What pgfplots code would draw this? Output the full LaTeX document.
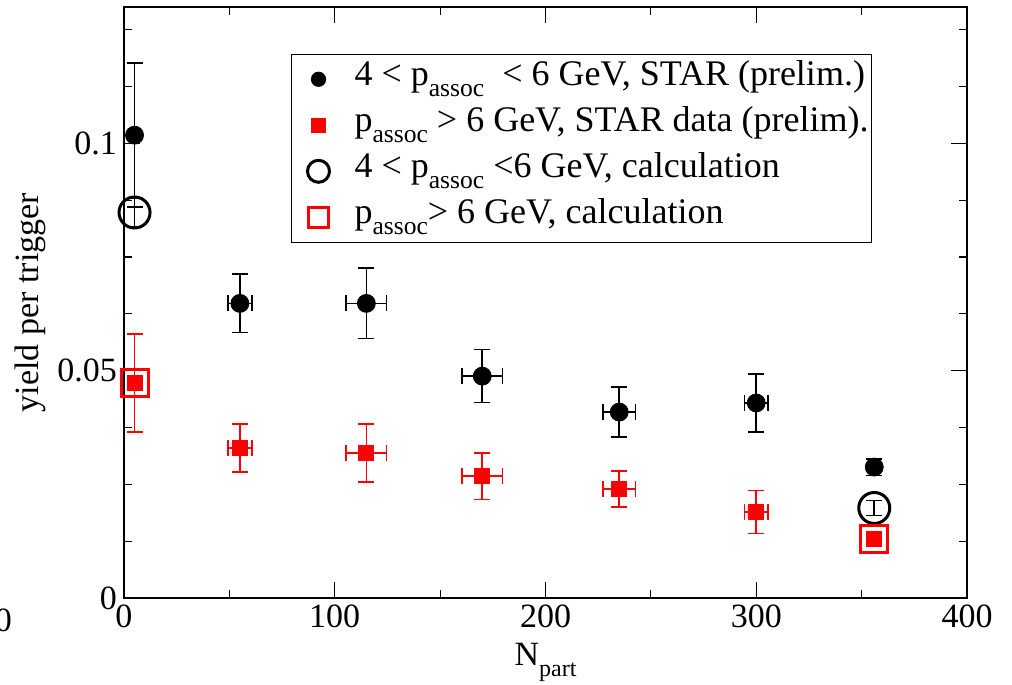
\documentclass[border=0pt]{standalone}
\usepackage{fontspec}
\setmainfont{Liberation Serif}
\usepackage{pgfplots}
\pgfplotsset{compat=1.18}
\usepackage{pgfplotstable}
\usetikzlibrary{arrows.meta}

\pgfplotstableread{
x y ex ey
5 0.1018 0 0.0160
55 0.0648 6 0.0066
115 0.0648 10 0.0079
170 0.0488 10 0.0060
235 0.0409 8 0.0057
300 0.0429 6 0.0066
356 0.0288 0 0.0020
}\blackdata

\pgfplotstableread{
x y ex ey
5 0.0473 0 0.0110
55 0.0330 6 0.0055
115 0.0319 10 0.0065
170 0.0268 10 0.0053
235 0.0240 8 0.0041
300 0.0189 6 0.0049
356 0.0130 0 0
}\reddata

\pgfplotstableread{
x y ey
5 0.0848 0.0033
356 0.0198 0.0018
}\blackcalc

\pgfplotstableread{
x y
5 0.0473
356 0.0130
}\redcalc

\newcommand{\sub}[1]{\raisebox{-5.8pt}{\fontsize{12.8}{12.8}\selectfont #1}}
\newcommand{\subx}[1]{\raisebox{-5.5pt}{\fontsize{12}{12}\selectfont #1}}

\begin{document}
\begin{tikzpicture}
\begin{axis}[name=ax, scale only axis, width=421.5pt, height=295.5pt,
 xmin=0, xmax=400, ymin=0, ymax=0.13,
 xtick={0,100,200,300,400}, xticklabels={0,100,200,300,400},
 minor xtick={50,150,250,350},
 ytick={0,0.05,0.1}, yticklabels={0,0.05,0.1},
 minor ytick={0.0125,0.025,0.0375,0.0625,0.075,0.0875,0.1125,0.125},
 tick align=inside, major tick length=8pt, minor tick length=4pt,
 tick style={black, line width=0.6pt},
 axis line style={line width=1.1pt},
 ticklabel style={font=\fontsize{17}{17}\selectfont},
 clip=false,
 xlabel={N\subx{part}},
 ylabel={yield per trigger},
 xlabel style={at={(axis description cs:0.5,-0.1134)}, anchor=base, font=\fontsize{17}{17}\selectfont},
 ylabel style={at={(axis description cs:-0.1009,0.5)}, anchor=base, font=\fontsize{17}{17}\selectfont},
 legend style={at={(axis description cs:0.198,0.921)}, anchor=north west, draw=black, line width=0.6pt, fill=white,
   font=\fontsize{18}{18}\selectfont, inner xsep=1.5pt, inner ysep=3pt, row sep=4pt, column sep=6pt,
   nodes={inner sep=0pt, text height=12.5pt, text depth=6.5pt}},
 legend cell align=left,
]

\addplot[only marks, mark=*, mark size=4.5pt, black, mark options={fill=black},
  error bars/.cd, y dir=both, y explicit, x dir=both, x explicit, error mark=none,
  error bar style={line width=0.8pt, black, solid, -{Bar[width=8pt]}},
  /pgfplots/legend image code/.code={\path[draw=none, fill=none] (0pt,-5pt) rectangle (24pt,5pt);
    \draw[only marks, mark=*, mark size=3.5pt, black, fill=black] plot coordinates {(12pt,0pt)};}]
  table[x=x, y=y, x error=ex, y error=ey] {\blackdata};
\addlegendentry{4 < p\sub{assoc}\ \ < 6 GeV, STAR (prelim.)}

\addplot[only marks, mark=square*, mark size=3.75pt, red, mark options={fill=red},
  error bars/.cd, y dir=both, y explicit, x dir=both, x explicit, error mark=none,
  error bar style={line width=0.8pt, red, solid, -{Bar[width=8pt]}},
  /pgfplots/legend image code/.code={\path[draw=none, fill=none] (0pt,-5pt) rectangle (24pt,5pt);
    \draw[only marks, mark=square*, mark size=3.5pt, red, fill=red] plot coordinates {(12pt,0pt)};}]
  table[x=x, y=y, x error=ex, y error=ey] {\reddata};
\addlegendentry{p\sub{assoc} > 6 GeV, STAR data (prelim).}

\addplot[only marks, mark=o, mark size=7.75pt, black, mark options={line width=1.5pt},
  error bars/.cd, y dir=both, y explicit, error mark=none,
  error bar style={line width=0.8pt, black, solid, -{Bar[width=8pt]}},
  /pgfplots/legend image code/.code={\path[draw=none, fill=none] (0pt,-5pt) rectangle (24pt,5pt);
    \draw[only marks, mark=o, mark size=5.5pt, black, line width=1.5pt] plot coordinates {(12pt,0pt)};}]
  table[x=x, y=y, y error=ey] {\blackcalc};
\addlegendentry{4 < p\sub{assoc} <6 GeV, calculation}

\addplot[only marks, mark=square, mark size=6.75pt, red, mark options={line width=1.5pt},
  legend image code/.code={\path[draw=none, fill=none] (0pt,-5pt) rectangle (24pt,5pt);
    \draw[only marks, mark=square, mark size=5pt, red, line width=1.5pt] plot coordinates {(12pt,0pt)};}]
  table[x=x, y=y] {\redcalc};
\addlegendentry{p\sub{assoc}> 6 GeV, calculation}
\end{axis}
\node[anchor=base, font=\fontsize{17}{17}\selectfont] at ([shift={(-60.25pt,-17pt)}]ax.south west) {0};
\pgfresetboundingbox
\path[use as bounding box] ([shift={(-62pt,-43.5pt)}]ax.south west) rectangle ([shift={(22.5pt,3.5pt)}]ax.north east);
\end{tikzpicture}
\end{document}
